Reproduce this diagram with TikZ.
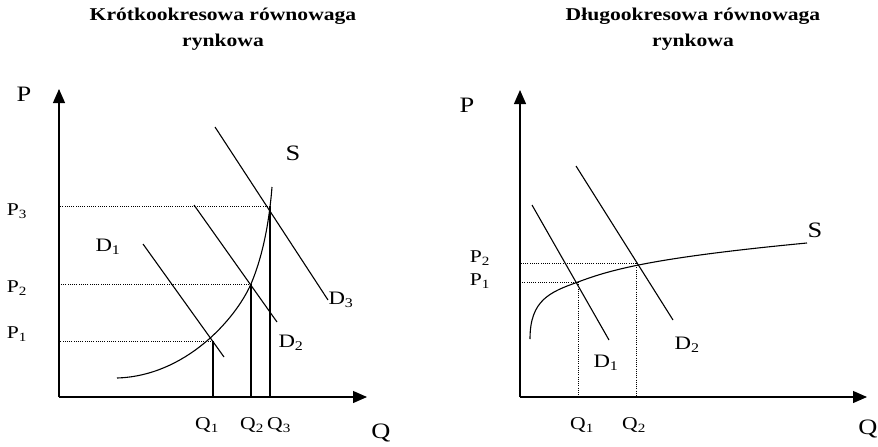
\documentclass[tikz,border=0pt]{standalone}
\usepackage{fontspec}
\setmainfont{Liberation Serif}[FakeStretch=1.2]
\usetikzlibrary{arrows.meta}
\tikzset{
  axis/.style={line width=1.2pt, -{Triangle[length=14pt,width=12pt]}},
  curve/.style={line width=1.1pt},
  guide/.style={line width=0.7pt, dash pattern=on 0.9pt off 1.3pt},
  heading/.style={font=\bfseries\fontsize{18}{26}\selectfont, align=center, inner sep=0pt},
  axlabel/.style={font=\fontsize{22}{24}\selectfont, inner sep=0pt},
  tick/.style={font=\fontsize{18}{20}\selectfont, inner sep=0pt},
  curvelabel/.style={font=\fontsize{19}{21}\selectfont, inner sep=0pt}
}
\begin{document}
\begin{tikzpicture}[x=1pt, y=-1pt]
\useasboundingbox (0,0) rectangle (878,447);
% krotki okres
\node[heading, anchor=base] (t1) at (223,46) {Krótkookresowa równowaga\\rynkowa};
\coordinate (o1) at (59,397);
\coordinate (py1) at (59,89);
\coordinate (qx1) at (367,397);
\draw[axis] (o1) -- (py1);
\draw[axis] (o1) -- (qx1);
\node[axlabel] (p1) at (24,94) {P};
\node[axlabel] (q1) at (381,433) {Q};
\coordinate (e1) at (213,341);
\coordinate (e2) at (251,284);
\coordinate (e3) at (270,206);
\draw[guide] (e1) -- (e1 -| o1);
\draw[guide] (e2) -- (e2 -| o1);
\draw[guide] (e3) -- (e3 -| o1);
\draw[curve] (e1) -- (e1 |- o1);
\draw[curve] (e2) -- (e2 |- o1);
\draw[curve] (e3) -- (e3 |- o1);
\draw[curve] (117,378) .. controls (185,376) and (235,320) .. (e2)
  .. controls (262,258) and (269,225) .. (272,187);
\coordinate (d1a) at (143,244);
\coordinate (d1b) at (224,357);
\coordinate (d2a) at (194,205);
\coordinate (d2b) at (277,322);
\coordinate (d3a) at (215,127);
\coordinate (d3b) at (328,300);
\draw[curve] (d1a) -- (d1b);
\draw[curve] (d2a) -- (d2b);
\draw[curve] (d3a) -- (d3b);
\node[tick] (lp3) at (17,211) {P\textsubscript{3}};
\node[tick] (lp2) at (17,288) {P\textsubscript{2}};
\node[tick] (lp1) at (17,334) {P\textsubscript{1}};
\node[tick] (lq1) at (207,425) {Q\textsubscript{1}};
\node[tick] (lq2) at (252,425) {Q\textsubscript{2}};
\node[tick] (lq3) at (279,425) {Q\textsubscript{3}};
\node[axlabel] (ls1) at (293,153) {S};
\node[curvelabel] (ld1) at (108,247) {D\textsubscript{1}};
\node[curvelabel] (ld2) at (291,343) {D\textsubscript{2}};
\node[curvelabel] (ld3) at (341,300) {D\textsubscript{3}};
% dlugi okres
\node[heading, anchor=base] (t2) at (693,46) {Długookresowa równowaga\\rynkowa};
\coordinate (o2) at (520,397);
\coordinate (py2) at (520,90);
\coordinate (qx2) at (867,397);
\draw[axis] (o2) -- (py2);
\draw[axis] (o2) -- (qx2);
\node[axlabel] (p2) at (467,105) {P};
\node[axlabel] (q2) at (868,429) {Q};
\coordinate (r1) at (578,282);
\coordinate (r2) at (636,263);
\draw[guide] (r1) -- (r1 -| o2);
\draw[guide] (r2) -- (r2 -| o2);
\draw[guide] (r1) -- (r1 |- o2);
\draw[guide] (r2) -- (r2 |- o2);
\draw[curve] (530,339) .. controls (530,300) and (550,292) .. (r1)
  .. controls (610,270) and (650,258) .. (807,243);
\coordinate (f1a) at (532,205);
\coordinate (f1b) at (609,340);
\coordinate (f2a) at (576,166);
\coordinate (f2b) at (673,320);
\draw[curve] (f1a) -- (f1b);
\draw[curve] (f2a) -- (f2b);
\node[tick] (rp2) at (480,258) {P\textsubscript{2}};
\node[tick] (rp1) at (480,281) {P\textsubscript{1}};
\node[tick] (rq1) at (582,425) {Q\textsubscript{1}};
\node[tick] (rq2) at (634,425) {Q\textsubscript{2}};
\node[axlabel] (rs) at (815,230) {S};
\node[curvelabel] (rd1) at (606,363) {D\textsubscript{1}};
\node[curvelabel] (rd2) at (687,345) {D\textsubscript{2}};
\end{tikzpicture}
\end{document}
